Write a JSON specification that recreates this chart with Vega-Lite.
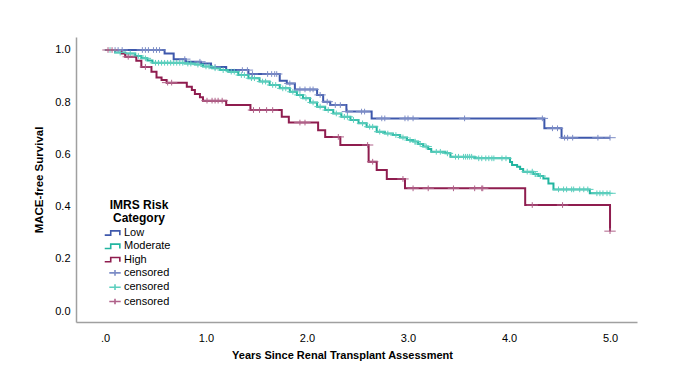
{
  "$schema": "https://vega.github.io/schema/vega-lite/v6.json",
  "width": 561,
  "height": 285,
  "autosize": {"type": "none"},
  "padding": {"left": 76, "top": 37, "right": 48, "bottom": 65},
  "background": "white",
  "config": {
    "view": {"stroke": null},
    "font": "Liberation Sans",
    "axis": {"domainColor": "#a0a0a0", "domainWidth": 1.5, "ticks": false, "grid": false, "labelColor": "#000", "labelFontSize": 11, "labelFont": "Liberation Sans", "titleFont": "Liberation Sans", "titleFontSize": 11, "titleFontWeight": "bold", "titleColor": "#000"},
    "legend": {"orient": "none", "legendX": 32, "legendY": 163, "titleFontSize": 12, "titleFontWeight": "bold", "titleFont": "Liberation Sans", "titleColor": "#000", "titleAnchor": "middle", "titleAlign": "center", "titlePadding": 1, "titleLineHeight": 13, "labelFontSize": 11, "labelFont": "Liberation Sans", "labelColor": "#000", "labelOffset": 2, "symbolSize": 130, "rowPadding": 0.3, "symbolStrokeWidth": 1.6}
  },
  "datasets": {
    "curves": [
      {"g": "Low", "t": 0, "s": 1.0}, {"g": "Low", "t": 0.59, "s": 0.987}, {"g": "Low", "t": 0.68, "s": 0.965}, {"g": "Low", "t": 0.80, "s": 0.955}, {"g": "Low", "t": 0.95, "s": 0.948}, {"g": "Low", "t": 1.05, "s": 0.935}, {"g": "Low", "t": 1.20, "s": 0.923}, {"g": "Low", "t": 1.42, "s": 0.908}, {"g": "Low", "t": 1.73, "s": 0.882}, {"g": "Low", "t": 1.80, "s": 0.872}, {"g": "Low", "t": 1.88, "s": 0.849}, {"g": "Low", "t": 2.10, "s": 0.828}, {"g": "Low", "t": 2.16, "s": 0.802}, {"g": "Low", "t": 2.23, "s": 0.789}, {"g": "Low", "t": 2.39, "s": 0.764}, {"g": "Low", "t": 2.64, "s": 0.738}, {"g": "Low", "t": 4.35, "s": 0.700}, {"g": "Low", "t": 4.52, "s": 0.664}, {"g": "Low", "t": 5.0, "s": 0.664},
      {"g": "Moderate", "t": 0, "s": 1.0}, {"g": "Moderate", "t": 0.10, "s": 0.99}, {"g": "Moderate", "t": 0.20, "s": 0.987}, {"g": "Moderate", "t": 0.30, "s": 0.977}, {"g": "Moderate", "t": 0.36, "s": 0.968}, {"g": "Moderate", "t": 0.42, "s": 0.96}, {"g": "Moderate", "t": 0.47, "s": 0.951}, {"g": "Moderate", "t": 0.79, "s": 0.948}, {"g": "Moderate", "t": 0.89, "s": 0.944}, {"g": "Moderate", "t": 0.97, "s": 0.937}, {"g": "Moderate", "t": 1.06, "s": 0.930}, {"g": "Moderate", "t": 1.14, "s": 0.923}, {"g": "Moderate", "t": 1.22, "s": 0.917}, {"g": "Moderate", "t": 1.32, "s": 0.904}, {"g": "Moderate", "t": 1.42, "s": 0.892}, {"g": "Moderate", "t": 1.53, "s": 0.879}, {"g": "Moderate", "t": 1.63, "s": 0.866}, {"g": "Moderate", "t": 1.73, "s": 0.853}, {"g": "Moderate", "t": 1.83, "s": 0.840}, {"g": "Moderate", "t": 1.90, "s": 0.828}, {"g": "Moderate", "t": 1.96, "s": 0.815}, {"g": "Moderate", "t": 2.03, "s": 0.799}, {"g": "Moderate", "t": 2.10, "s": 0.783}, {"g": "Moderate", "t": 2.18, "s": 0.770}, {"g": "Moderate", "t": 2.26, "s": 0.757}, {"g": "Moderate", "t": 2.34, "s": 0.744}, {"g": "Moderate", "t": 2.43, "s": 0.732}, {"g": "Moderate", "t": 2.51, "s": 0.719}, {"g": "Moderate", "t": 2.59, "s": 0.706}, {"g": "Moderate", "t": 2.69, "s": 0.687}, {"g": "Moderate", "t": 2.77, "s": 0.680}, {"g": "Moderate", "t": 2.85, "s": 0.674}, {"g": "Moderate", "t": 2.92, "s": 0.665}, {"g": "Moderate", "t": 2.99, "s": 0.655}, {"g": "Moderate", "t": 3.05, "s": 0.649}, {"g": "Moderate", "t": 3.10, "s": 0.640}, {"g": "Moderate", "t": 3.15, "s": 0.630}, {"g": "Moderate", "t": 3.20, "s": 0.621}, {"g": "Moderate", "t": 3.23, "s": 0.610}, {"g": "Moderate", "t": 3.37, "s": 0.604}, {"g": "Moderate", "t": 3.42, "s": 0.591}, {"g": "Moderate", "t": 3.66, "s": 0.585}, {"g": "Moderate", "t": 4.01, "s": 0.571}, {"g": "Moderate", "t": 4.03, "s": 0.559}, {"g": "Moderate", "t": 4.08, "s": 0.553}, {"g": "Moderate", "t": 4.11, "s": 0.544}, {"g": "Moderate", "t": 4.14, "s": 0.534}, {"g": "Moderate", "t": 4.24, "s": 0.525}, {"g": "Moderate", "t": 4.29, "s": 0.517}, {"g": "Moderate", "t": 4.34, "s": 0.508}, {"g": "Moderate", "t": 4.39, "s": 0.489}, {"g": "Moderate", "t": 4.44, "s": 0.466}, {"g": "Moderate", "t": 4.80, "s": 0.451}, {"g": "Moderate", "t": 5.0, "s": 0.451},
      {"g": "High", "t": 0, "s": 1.0}, {"g": "High", "t": 0.165, "s": 0.987}, {"g": "High", "t": 0.2, "s": 0.974}, {"g": "High", "t": 0.31, "s": 0.959}, {"g": "High", "t": 0.36, "s": 0.935}, {"g": "High", "t": 0.46, "s": 0.917}, {"g": "High", "t": 0.51, "s": 0.895}, {"g": "High", "t": 0.56, "s": 0.885}, {"g": "High", "t": 0.61, "s": 0.875}, {"g": "High", "t": 0.81, "s": 0.859}, {"g": "High", "t": 0.86, "s": 0.847}, {"g": "High", "t": 0.89, "s": 0.831}, {"g": "High", "t": 0.94, "s": 0.819}, {"g": "High", "t": 0.97, "s": 0.806}, {"g": "High", "t": 1.20, "s": 0.789}, {"g": "High", "t": 1.44, "s": 0.770}, {"g": "High", "t": 1.75, "s": 0.744}, {"g": "High", "t": 1.82, "s": 0.722}, {"g": "High", "t": 2.11, "s": 0.693}, {"g": "High", "t": 2.18, "s": 0.667}, {"g": "High", "t": 2.33, "s": 0.636}, {"g": "High", "t": 2.61, "s": 0.572}, {"g": "High", "t": 2.69, "s": 0.540}, {"g": "High", "t": 2.79, "s": 0.506}, {"g": "High", "t": 2.97, "s": 0.470}, {"g": "High", "t": 4.16, "s": 0.406}, {"g": "High", "t": 5.0, "s": 0.306}
    ],
    "censor": [
      {"g": "cLow", "t": 0.10, "s": 1.0}, {"g": "cLow", "t": 0.13, "s": 1.0}, {"g": "cLow", "t": 0.17, "s": 1.0}, {"g": "cLow", "t": 0.37, "s": 1.0}, {"g": "cLow", "t": 0.40, "s": 1.0}, {"g": "cLow", "t": 0.43, "s": 1.0}, {"g": "cLow", "t": 0.48, "s": 1.0}, {"g": "cLow", "t": 0.51, "s": 1.0}, {"g": "cLow", "t": 0.54, "s": 1.0}, {"g": "cLow", "t": 0.79, "s": 0.965}, {"g": "cLow", "t": 0.94, "s": 0.955}, {"g": "cLow", "t": 1.09, "s": 0.935}, {"g": "cLow", "t": 1.36, "s": 0.923}, {"g": "cLow", "t": 1.41, "s": 0.923}, {"g": "cLow", "t": 1.46, "s": 0.908}, {"g": "cLow", "t": 1.61, "s": 0.908}, {"g": "cLow", "t": 1.65, "s": 0.908}, {"g": "cLow", "t": 1.68, "s": 0.908}, {"g": "cLow", "t": 1.70, "s": 0.908}, {"g": "cLow", "t": 1.83, "s": 0.872}, {"g": "cLow", "t": 1.93, "s": 0.849}, {"g": "cLow", "t": 1.98, "s": 0.849}, {"g": "cLow", "t": 2.03, "s": 0.849}, {"g": "cLow", "t": 2.06, "s": 0.849}, {"g": "cLow", "t": 2.13, "s": 0.828}, {"g": "cLow", "t": 2.20, "s": 0.802}, {"g": "cLow", "t": 2.28, "s": 0.789}, {"g": "cLow", "t": 2.33, "s": 0.789}, {"g": "cLow", "t": 2.40, "s": 0.764}, {"g": "cLow", "t": 2.54, "s": 0.764}, {"g": "cLow", "t": 2.57, "s": 0.764}, {"g": "cLow", "t": 2.74, "s": 0.738}, {"g": "cLow", "t": 2.77, "s": 0.738}, {"g": "cLow", "t": 2.97, "s": 0.738}, {"g": "cLow", "t": 3.0, "s": 0.738}, {"g": "cLow", "t": 3.05, "s": 0.738}, {"g": "cLow", "t": 3.56, "s": 0.738}, {"g": "cLow", "t": 4.33, "s": 0.738}, {"g": "cLow", "t": 4.43, "s": 0.700}, {"g": "cLow", "t": 4.48, "s": 0.700}, {"g": "cLow", "t": 4.55, "s": 0.664}, {"g": "cLow", "t": 4.58, "s": 0.664}, {"g": "cLow", "t": 4.63, "s": 0.664}, {"g": "cLow", "t": 4.88, "s": 0.664}, {"g": "cLow", "t": 5.0, "s": 0.664},
      {"g": "cModerate", "t": 0.05, "s": 1.0}, {"g": "cModerate", "t": 0.15, "s": 0.99}, {"g": "cModerate", "t": 0.25, "s": 0.987}, {"g": "cModerate", "t": 0.33, "s": 0.977}, {"g": "cModerate", "t": 0.40, "s": 0.968}, {"g": "cModerate", "t": 0.50, "s": 0.951}, {"g": "cModerate", "t": 0.53, "s": 0.951}, {"g": "cModerate", "t": 0.56, "s": 0.951}, {"g": "cModerate", "t": 0.59, "s": 0.951}, {"g": "cModerate", "t": 0.62, "s": 0.951}, {"g": "cModerate", "t": 0.65, "s": 0.951}, {"g": "cModerate", "t": 0.68, "s": 0.951}, {"g": "cModerate", "t": 0.71, "s": 0.951}, {"g": "cModerate", "t": 0.74, "s": 0.951}, {"g": "cModerate", "t": 0.77, "s": 0.951}, {"g": "cModerate", "t": 0.82, "s": 0.948}, {"g": "cModerate", "t": 0.85, "s": 0.948}, {"g": "cModerate", "t": 0.92, "s": 0.944}, {"g": "cModerate", "t": 1.0, "s": 0.937}, {"g": "cModerate", "t": 1.03, "s": 0.937}, {"g": "cModerate", "t": 1.09, "s": 0.930}, {"g": "cModerate", "t": 1.17, "s": 0.923}, {"g": "cModerate", "t": 1.25, "s": 0.917}, {"g": "cModerate", "t": 1.28, "s": 0.917}, {"g": "cModerate", "t": 1.35, "s": 0.904}, {"g": "cModerate", "t": 1.38, "s": 0.904}, {"g": "cModerate", "t": 1.45, "s": 0.892}, {"g": "cModerate", "t": 1.48, "s": 0.892}, {"g": "cModerate", "t": 1.56, "s": 0.879}, {"g": "cModerate", "t": 1.59, "s": 0.879}, {"g": "cModerate", "t": 1.66, "s": 0.866}, {"g": "cModerate", "t": 1.69, "s": 0.866}, {"g": "cModerate", "t": 1.76, "s": 0.853}, {"g": "cModerate", "t": 1.79, "s": 0.853}, {"g": "cModerate", "t": 1.86, "s": 0.840}, {"g": "cModerate", "t": 1.93, "s": 0.828}, {"g": "cModerate", "t": 1.99, "s": 0.815}, {"g": "cModerate", "t": 2.06, "s": 0.799}, {"g": "cModerate", "t": 2.13, "s": 0.783}, {"g": "cModerate", "t": 2.21, "s": 0.770}, {"g": "cModerate", "t": 2.29, "s": 0.757}, {"g": "cModerate", "t": 2.37, "s": 0.744}, {"g": "cModerate", "t": 2.40, "s": 0.744}, {"g": "cModerate", "t": 2.46, "s": 0.732}, {"g": "cModerate", "t": 2.55, "s": 0.719}, {"g": "cModerate", "t": 2.62, "s": 0.706}, {"g": "cModerate", "t": 2.65, "s": 0.706}, {"g": "cModerate", "t": 2.72, "s": 0.687}, {"g": "cModerate", "t": 2.80, "s": 0.680}, {"g": "cModerate", "t": 2.88, "s": 0.674}, {"g": "cModerate", "t": 2.95, "s": 0.665}, {"g": "cModerate", "t": 3.02, "s": 0.655}, {"g": "cModerate", "t": 3.07, "s": 0.649}, {"g": "cModerate", "t": 3.12, "s": 0.640}, {"g": "cModerate", "t": 3.18, "s": 0.630}, {"g": "cModerate", "t": 3.28, "s": 0.610}, {"g": "cModerate", "t": 3.32, "s": 0.610}, {"g": "cModerate", "t": 3.39, "s": 0.604}, {"g": "cModerate", "t": 3.47, "s": 0.591}, {"g": "cModerate", "t": 3.50, "s": 0.591}, {"g": "cModerate", "t": 3.55, "s": 0.591}, {"g": "cModerate", "t": 3.57, "s": 0.591}, {"g": "cModerate", "t": 3.59, "s": 0.591}, {"g": "cModerate", "t": 3.61, "s": 0.591}, {"g": "cModerate", "t": 3.63, "s": 0.591}, {"g": "cModerate", "t": 3.70, "s": 0.585}, {"g": "cModerate", "t": 3.73, "s": 0.585}, {"g": "cModerate", "t": 3.77, "s": 0.585}, {"g": "cModerate", "t": 3.80, "s": 0.585}, {"g": "cModerate", "t": 3.83, "s": 0.585}, {"g": "cModerate", "t": 3.85, "s": 0.585}, {"g": "cModerate", "t": 3.93, "s": 0.585}, {"g": "cModerate", "t": 3.97, "s": 0.585}, {"g": "cModerate", "t": 4.18, "s": 0.534}, {"g": "cModerate", "t": 4.23, "s": 0.534}, {"g": "cModerate", "t": 4.26, "s": 0.525}, {"g": "cModerate", "t": 4.31, "s": 0.517}, {"g": "cModerate", "t": 4.49, "s": 0.466}, {"g": "cModerate", "t": 4.54, "s": 0.466}, {"g": "cModerate", "t": 4.57, "s": 0.466}, {"g": "cModerate", "t": 4.62, "s": 0.466}, {"g": "cModerate", "t": 4.64, "s": 0.466}, {"g": "cModerate", "t": 4.70, "s": 0.466}, {"g": "cModerate", "t": 4.74, "s": 0.466}, {"g": "cModerate", "t": 4.78, "s": 0.466}, {"g": "cModerate", "t": 4.87, "s": 0.451}, {"g": "cModerate", "t": 4.90, "s": 0.451}, {"g": "cModerate", "t": 4.93, "s": 0.451}, {"g": "cModerate", "t": 4.97, "s": 0.451}, {"g": "cModerate", "t": 5.0, "s": 0.451},
      {"g": "cHigh", "t": 0.03, "s": 1.0}, {"g": "cHigh", "t": 0.07, "s": 1.0}, {"g": "cHigh", "t": 0.23, "s": 0.974}, {"g": "cHigh", "t": 0.40, "s": 0.935}, {"g": "cHigh", "t": 0.62, "s": 0.875}, {"g": "cHigh", "t": 0.66, "s": 0.875}, {"g": "cHigh", "t": 1.01, "s": 0.806}, {"g": "cHigh", "t": 1.06, "s": 0.806}, {"g": "cHigh", "t": 1.09, "s": 0.806}, {"g": "cHigh", "t": 1.12, "s": 0.806}, {"g": "cHigh", "t": 1.16, "s": 0.806}, {"g": "cHigh", "t": 1.47, "s": 0.770}, {"g": "cHigh", "t": 1.53, "s": 0.770}, {"g": "cHigh", "t": 1.60, "s": 0.770}, {"g": "cHigh", "t": 1.66, "s": 0.770}, {"g": "cHigh", "t": 1.93, "s": 0.722}, {"g": "cHigh", "t": 1.98, "s": 0.722}, {"g": "cHigh", "t": 2.31, "s": 0.667}, {"g": "cHigh", "t": 2.60, "s": 0.636}, {"g": "cHigh", "t": 2.65, "s": 0.572}, {"g": "cHigh", "t": 2.95, "s": 0.506}, {"g": "cHigh", "t": 3.05, "s": 0.470}, {"g": "cHigh", "t": 3.20, "s": 0.470}, {"g": "cHigh", "t": 3.45, "s": 0.470}, {"g": "cHigh", "t": 3.66, "s": 0.470}, {"g": "cHigh", "t": 3.73, "s": 0.470}, {"g": "cHigh", "t": 3.74, "s": 0.470}, {"g": "cHigh", "t": 4.23, "s": 0.406}, {"g": "cHigh", "t": 4.53, "s": 0.406}, {"g": "cHigh", "t": 5.0, "s": 0.306}
    ]
  },
  "layer": [
    {
      "data": {"name": "curves"},
      "mark": {"type": "line", "interpolate": "step-after", "strokeWidth": 2},
      "encoding": {
        "x": {"field": "t", "type": "quantitative", "scale": {"domain": [-0.287, 5.267], "nice": false, "zero": false},
          "axis": {"values": [0, 1, 2, 3, 4, 5], "labelExpr": "datum.value == 0 ? '.0' : format(datum.value, '.1f')", "labelPadding": 10, "titlePadding": 6, "titleX": 266, "title": "Years Since Renal Transplant Assessment"}},
        "y": {"field": "s", "type": "quantitative", "scale": {"domain": [-0.0421, 1.0498], "nice": false, "zero": false},
          "axis": {"values": [0, 0.2, 0.4, 0.6, 0.8, 1.0], "format": ".1f", "labelPadding": 6, "titlePadding": 10, "titleFontSize": 11.5, "title": "MACE-free Survival"}},
        "color": {"field": "g", "type": "nominal",
          "scale": {"domain": ["Low", "Moderate", "High", "cLow", "cModerate", "cHigh"], "range": ["#3e58ac", "#22b5a0", "#8f1d4f", "#7c8cc6", "#5ccfbe", "#b0628a"]},
          "legend": {"title": ["IMRS Risk", "Category"], "labelExpr": "indexof(datum.value, 'c') == 0 ? 'censored' : datum.label"}}
      }
    },
    {
      "data": {"name": "censor"},
      "mark": {"type": "point", "filled": false, "size": 130, "strokeWidth": 1, "opacity": 1},
      "encoding": {
        "x": {"field": "t", "type": "quantitative"},
        "y": {"field": "s", "type": "quantitative"},
        "color": {"field": "g", "type": "nominal", "legend": {"title": ["IMRS Risk", "Category"], "labelExpr": "indexof(datum.value, 'c') == 0 ? 'censored' : datum.label"}},
        "shape": {"field": "g", "type": "nominal",
          "scale": {"domain": ["Low", "Moderate", "High", "cLow", "cModerate", "cHigh"], "range": ["M-1.8,0.38L-0.75,0.38L-0.75,-0.38L0.85,-0.38L0.85,0.38", "M-1.8,0.38L-0.75,0.38L-0.75,-0.38L0.85,-0.38L0.85,0.38", "M-1.8,0.38L-0.75,0.38L-0.75,-0.38L0.85,-0.38L0.85,0.38", "M-1,0L1,0M0,-0.5L0,0.5", "M-1,0L1,0M0,-0.5L0,0.5", "M-1,0L1,0M0,-0.5L0,0.5"]},
          "legend": {"title": ["IMRS Risk", "Category"], "labelExpr": "indexof(datum.value, 'c') == 0 ? 'censored' : datum.label"}}
      }
    }
  ]
}
